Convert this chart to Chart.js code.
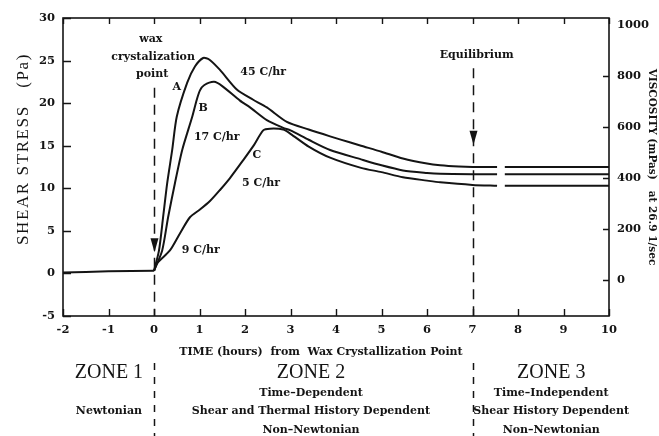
<!DOCTYPE html>
<html>
<head>
<meta charset="utf-8">
<script src="https://cdn.jsdelivr.net/npm/chart.js@4/dist/chart.umd.min.js"></script>
<style>
  html, body { margin: 0; padding: 0; background: #fff; }
  #wrap { width: 659px; height: 436px; }
</style>
</head>
<body>
<div id="wrap"><canvas id="c" width="659" height="436"></canvas></div>
<script>
// Shear stress (Pa) vs time (hours) from the wax crystallization point
const baseHours  = [-2, -1, 0];
const baseStress = [0.1, 0.25, 0.3];

// A: 45 C/hr
const hoursA  = [0, 0.11, 0.2, 0.29, 0.4, 0.5, 0.73, 0.9, 1.08, 1.22, 1.45, 1.82, 2.18, 2.48, 2.92, 3.4, 3.87, 4.3, 4.55, 5.0, 5.47, 6.0, 6.29, 6.7, 7.0, 7.54, 7.62, 7.71, 10];
const stressA = [0.3, 2.7, 6.6, 10.6, 14.5, 18.4, 22.4, 24.3, 25.3, 25.1, 23.9, 21.6, 20.4, 19.5, 17.8, 16.9, 16.1, 15.4, 15.0, 14.3, 13.5, 12.9, 12.7, 12.55, 12.5, 12.5, null, 12.5, 12.5];

// B: 17 C/hr
const hoursB  = [0, 0.18, 0.31, 0.46, 0.62, 0.84, 0.94, 1.01, 1.1, 1.32, 1.5, 1.89, 2.11, 2.48, 2.84, 3.0, 3.4, 3.87, 4.55, 5.0, 5.47, 6.0, 6.29, 7.0, 7.54, 7.62, 7.71, 10];
const stressB = [0.3, 2.7, 6.6, 10.6, 14.5, 18.4, 20.4, 21.5, 22.1, 22.5, 22.0, 20.3, 19.5, 18.0, 17.1, 16.8, 15.7, 14.5, 13.4, 12.7, 12.1, 11.8, 11.7, 11.65, 11.65, null, 11.65, 11.65];

// C: 9 C/hr rising, 5 C/hr
const hoursC  = [0, 0.07, 0.35, 0.57, 0.79, 1.01, 1.23, 1.45, 1.67, 1.96, 2.2, 2.4, 2.55, 2.84, 3.0, 3.4, 3.87, 4.55, 5.0, 5.47, 6.0, 6.29, 7.0, 7.54, 7.62, 7.71, 10];
const stressC = [0.3, 1.2, 2.7, 4.7, 6.6, 7.5, 8.5, 9.8, 11.2, 13.3, 15.1, 16.8, 17.0, 16.9, 16.4, 14.9, 13.6, 12.4, 11.9, 11.3, 10.9, 10.7, 10.4, 10.3, null, 10.3, 10.3];

// Right-hand viscosity axis (mPas)
const viscTicks = [0, 200, 400, 600, 800, 1000];
const viscMin = -141;
const viscMax = 1027;

// Dashed markers: wax crystallization point and equilibrium
const markerHours = [0, 7];
const markerStart = [21.8, 24.1];
const arrowTip    = [2.5, 15.1];

// Curve labels: [text, hours, stress]
const curveNotes = [
  ['wax', -0.07, 27.5],
  ['crystalization', -0.02, 25.4],
  ['point', -0.04, 23.4],
  ['Equilibrium', 7.09, 25.6],
  ['45 C/hr', 2.4, 23.6],
  ['A', 0.5, 21.9],
  ['B', 1.08, 19.4],
  ['17 C/hr', 1.38, 16.0],
  ['C', 2.26, 13.9],
  ['5 C/hr', 2.35, 10.6],
  ['9 C/hr', 1.03, 2.7]
];

// Flow regime zones below the time axis
const zoneCenters = [-0.99, 3.45, 8.73];
const zoneTitles  = ['ZONE 1', 'ZONE 2', 'ZONE 3'];
const zoneLines = [
  [null, 'Newtonian', null],
  ['Time\u2013Dependent', 'Shear and Thermal History Dependent', 'Non\u2013Newtonian'],
  ['Time\u2013Independent', 'Shear History Dependent', 'Non\u2013Newtonian']
];

const INK = '#141414';
const BOLD = 'bold 11px "DejaVu Serif"';
const tickFont = { family: 'DejaVu Serif', weight: 'bold', size: 11.5 };

function series(hours, stress) {
  return {
    data: hours.map((h, i) => ({ x: h, y: stress[i] })),
    borderColor: INK,
    borderWidth: 2,
    pointRadius: 0,
    spanGaps: false,
    tension: 0.25,
    fill: false
  };
}

const decor = {
  id: 'decor',
  afterDraw(chart) {
    const { ctx, chartArea: a, scales: { x, y, y2 } } = chart;
    ctx.save();
    ctx.strokeStyle = INK;
    ctx.fillStyle = INK;

    // frame
    ctx.lineWidth = 1.6;
    ctx.strokeRect(a.left, a.top, a.right - a.left, a.bottom - a.top);

    // inward tick marks
    ctx.lineWidth = 1.4;
    ctx.beginPath();
    x.ticks.forEach(t => {
      const px = Math.round(x.getPixelForValue(t.value)) + 0.5;
      ctx.moveTo(px, a.bottom); ctx.lineTo(px, a.bottom - 7);
      ctx.moveTo(px, a.top); ctx.lineTo(px, a.top + 6);
    });
    y.ticks.forEach(t => {
      const py = Math.round(y.getPixelForValue(t.value)) + 0.5;
      ctx.moveTo(a.left, py); ctx.lineTo(a.left + 8, py);
    });
    y2.ticks.forEach(t => {
      if (t.value >= 1000) return;
      const py = Math.round(y2.getPixelForValue(t.value)) + 0.5;
      ctx.moveTo(a.right, py); ctx.lineTo(a.right - 6, py);
    });
    ctx.stroke();

    // dashed markers with arrows
    markerHours.forEach((h, i) => {
      const px = Math.round(x.getPixelForValue(h)) + 0.5;
      ctx.lineWidth = 1.5;
      ctx.setLineDash([10, 7]);
      ctx.beginPath();
      ctx.moveTo(px, y.getPixelForValue(markerStart[i]));
      ctx.lineTo(px, a.bottom);
      ctx.stroke();
      ctx.setLineDash([7, 7]);
      ctx.beginPath();
      ctx.moveTo(px, a.bottom + 47);
      ctx.lineTo(px, chart.height);
      ctx.stroke();
      ctx.setLineDash([]);
      const tip = y.getPixelForValue(arrowTip[i]);
      ctx.beginPath();
      ctx.moveTo(px, tip);
      ctx.lineTo(px - 4, tip - 14);
      ctx.lineTo(px + 4, tip - 14);
      ctx.closePath();
      ctx.fill();
    });

    // curve labels
    ctx.font = BOLD;
    ctx.textAlign = 'center';
    ctx.textBaseline = 'middle';
    curveNotes.forEach(([t, h, s]) => {
      ctx.fillText(t, x.getPixelForValue(h), y.getPixelForValue(s));
    });

    // time axis title
    ctx.fillText('TIME (hours)  from  Wax Crystallization Point', x.getPixelForValue(3.67), a.bottom + 36);

    // shear stress axis title
    ctx.save();
    ctx.translate(24, (y.getPixelForValue(30) + y.getPixelForValue(-5)) / 2 - 18);
    ctx.rotate(-Math.PI / 2);
    ctx.font = '17px "Liberation Serif"';
    ctx.letterSpacing = '1.6px';
    ctx.fillText('SHEAR STRESS   (Pa)', 0, 0);
    ctx.restore();

    // zones
    zoneCenters.forEach((h, i) => {
      const cx = x.getPixelForValue(h);
      ctx.font = '20px "Liberation Serif"';
      ctx.fillText(zoneTitles[i], cx, a.bottom + 57);
      ctx.font = BOLD;
      zoneLines[i].forEach((t, j) => {
        if (t) ctx.fillText(t, cx, a.bottom + 77 + j * 18.5);
      });
    });

    ctx.restore();
  }
};

new Chart(document.getElementById('c'), {
  type: 'line',
  data: {
    datasets: [
      series(baseHours, baseStress),
      series(hoursA, stressA),
      series(hoursB, stressB),
      series(hoursC, stressC)
    ]
  },
  options: {
    responsive: false,
    animation: false,
    devicePixelRatio: 1,
    layout: { padding: { top: 18, bottom: 76, left: 0, right: 0 } },
    plugins: { legend: { display: false }, tooltip: { enabled: false } },
    scales: {
      x: {
        type: 'linear', min: -2, max: 10,
        ticks: { stepSize: 1, padding: 7, font: tickFont, color: INK, maxRotation: 0 },
        grid: { display: false, drawTicks: false },
        border: { display: false },
        afterFit: s => { s.height = 44; }
      },
      y: {
        type: 'linear', position: 'left', min: -5, max: 30,
        ticks: { stepSize: 5, padding: 8, font: tickFont, color: INK },
        grid: { display: false, drawTicks: false },
        border: { display: false },
        afterFit: s => { s.width = 63; }
      },
      y2: {
        type: 'linear', position: 'right', min: viscMin, max: viscMax,
        afterBuildTicks: s => { s.ticks = viscTicks.map(v => ({ value: v })); },
        ticks: { padding: 8, font: tickFont, color: INK, callback: v => String(v) },
        grid: { display: false, drawTicks: false },
        border: { display: false },
        title: {
          display: true,
          text: 'VISCOSITY (mPas)   at 26.9 1/sec',
          font: { family: 'DejaVu Serif', weight: 'bold', size: 10.5 },
          color: INK,
          padding: { top: 1, bottom: 0 }
        },
        afterFit: s => { s.width = 50; }
      }
    }
  },
  plugins: [decor]
});
</script>
</body>
</html>
